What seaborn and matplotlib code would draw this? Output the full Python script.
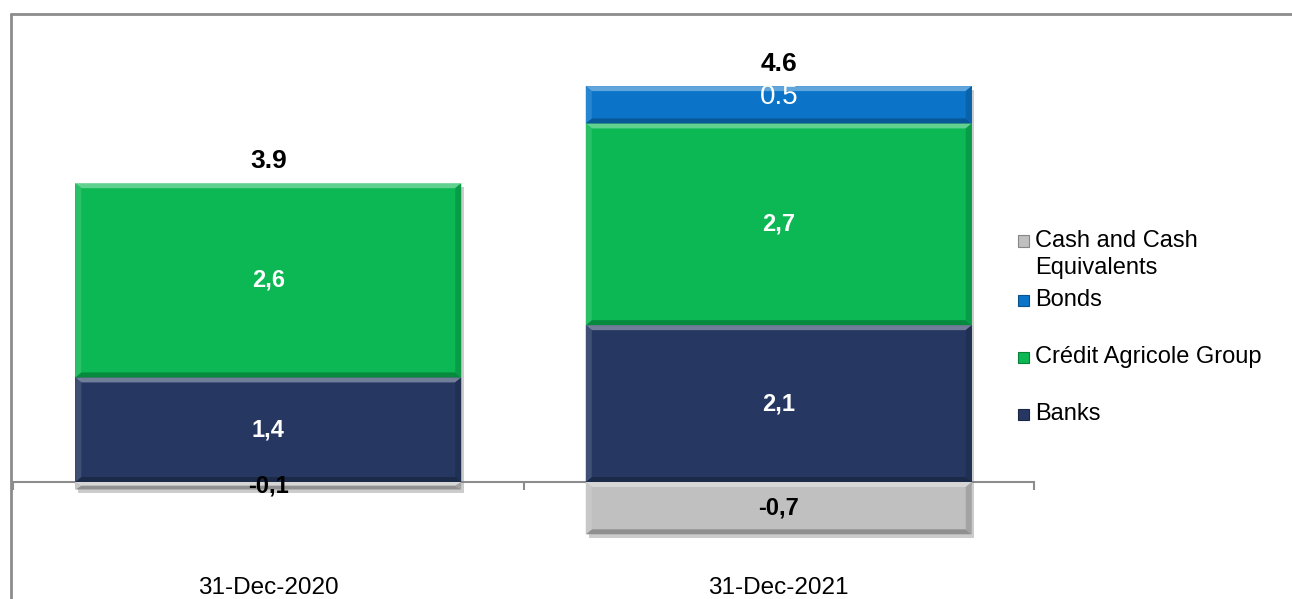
import matplotlib
matplotlib.use("Agg")
import matplotlib.pyplot as plt
import matplotlib.patheffects as pe
from matplotlib.patches import Polygon, Rectangle
from matplotlib.lines import Line2D
from matplotlib.colors import to_rgb
import numpy as np
import pandas as pd
import seaborn as sns

# data (EUR bn)
categories = ["31-Dec-2020", "31-Dec-2021"]
banks = [1.4, 2.1]
credit_agricole = [2.6, 2.7]
bonds = [0.0, 0.5]
cash = [-0.1, -0.7]
totals = [3.9, 4.6]

series_names = ["Banks", "Crédit Agricole Group", "Bonds", "Cash and Cash\nEquivalents"]
series_colors = {"Banks": "#263862",
                 "Crédit Agricole Group": "#0BB853",
                 "Bonds": "#0B74C8",
                 "Cash and Cash\nEquivalents": "#C0C0C0"}

sns.set_theme(style="white")
plt.rcParams["font.family"] = ["Liberation Sans", "DejaVu Sans"]
plt.rcParams["text.color"] = "black"

W, H = 1292, 599
fig = plt.figure(figsize=(W / 100, H / 100), dpi=100)
ax = fig.add_axes([13 / W, 0, 1021 / W, 1])
zero_px = 482          # pixel row of the zero line, from top
px_per_unit = 74.7
ax.set_ylim(-(H - zero_px) / px_per_unit, zero_px / px_per_unit)


def lighten(c, f):
    r = np.array(to_rgb(c))
    return tuple(r + (1 - r) * f)


def darken(c, f):
    return tuple(np.array(to_rgb(c)) * (1 - f))


def add_bevel(patch, color):
    x0, w = patch.get_x(), patch.get_width()
    y0, h = patch.get_y(), patch.get_height()
    if abs(h) < 1e-9:
        return
    yb, yt = min(y0, y0 + h), max(y0, y0 + h)
    xl, xr = x0, x0 + w
    dx = 6 / (ax.bbox.width / 2.0)
    dy = min(5 / px_per_unit, (yt - yb) / 2)
    pieces = [
        ([(xl, yt), (xr, yt), (xr - dx, yt - dy), (xl + dx, yt - dy)], lighten(color, 0.35)),
        ([(xl, yb), (xr, yb), (xr - dx, yb + dy), (xl + dx, yb + dy)], darken(color, 0.25)),
        ([(xl, yb), (xl, yt), (xl + dx, yt - dy), (xl + dx, yb + dy)], lighten(color, 0.12)),
        ([(xr, yb), (xr, yt), (xr - dx, yt - dy), (xr - dx, yb + dy)], darken(color, 0.15)),
    ]
    for pts, c in pieces:
        ax.add_patch(Polygon(pts, closed=True, facecolor=c, edgecolor="none", zorder=patch.get_zorder() + 0.1))


df = pd.DataFrame({"date": categories * 4,
                   "series": np.repeat(series_names, 2),
                   "value": banks + credit_agricole + bonds + cash})
bottoms = {"Banks": [0, 0],
           "Crédit Agricole Group": banks,
           "Bonds": [b + c for b, c in zip(banks, credit_agricole)],
           "Cash and Cash\nEquivalents": [0, 0]}

shadow = [pe.SimplePatchShadow(offset=(2, -2.5), shadow_rgbFace="#808080", alpha=0.4), pe.Normal()]
for name in series_names:
    sub = df[df["series"] == name]
    n_before = len(ax.patches)
    sns.barplot(data=sub, x="date", y="value", order=categories, color=series_colors[name],
                saturation=1, width=0.756, errorbar=None, bottom=bottoms[name], ax=ax, zorder=2)
    for p in ax.patches[n_before:]:
        if abs(p.get_height()) > 1e-9:
            p.set_path_effects(shadow)
            p.set_edgecolor("none")
            add_bevel(p, series_colors[name])

# segment labels
for i in range(2):
    ax.text(i, banks[i] / 2, f"{banks[i]:.1f}".replace(".", ","), ha="center", va="center",
            color="white", fontsize=17, fontweight="bold", zorder=5)
    ax.text(i, banks[i] + credit_agricole[i] / 2, f"{credit_agricole[i]:.1f}".replace(".", ","),
            ha="center", va="center", color="white", fontsize=17, fontweight="bold", zorder=5)
    if bonds[i] > 0:
        ax.text(i, banks[i] + credit_agricole[i] + bonds[i] / 2 + 0.1, f"{bonds[i]:.1f}",
                ha="center", va="center", color="white", fontsize=20, zorder=5)
    ax.text(i, cash[i] / 2, f"{cash[i]:.1f}".replace(".", ","), ha="center", va="center",
            color="black", fontsize=17, fontweight="bold", zorder=5)
    top = banks[i] + credit_agricole[i] + bonds[i]
    ax.annotate(f"{totals[i]:.1f}", (i, top), xytext=(0, 16), textcoords="offset points",
                ha="center", va="center", fontsize=19, fontweight="bold", color="black", zorder=5)

# axis styling: zero line with ticks at category boundaries, labels at the bottom
ax.set_xlim(-0.5, 1.5)
for s in ["top", "right", "left"]:
    ax.spines[s].set_visible(False)
ax.spines["bottom"].set_position(("data", 0))
ax.spines["bottom"].set_color("#8C8C8C")
ax.spines["bottom"].set_linewidth(1.5)
ax.spines["bottom"].set_zorder(1)
ax.set_xticks([-0.5, 0.5, 1.5])
ax.set_xticklabels([])
ax.tick_params(axis="x", direction="out", length=6, width=1.5, color="#8C8C8C", bottom=True)
ax.set_yticks([])
ax.set_xlabel("")
ax.set_ylabel("")
ax.patch.set_alpha(0)
for i, c in enumerate(categories):
    ax.text(i, 11 / H, c, transform=ax.get_xaxis_transform(), ha="center", va="center", fontsize=17.5)

# legend drawn by hand to copy the uneven spacing
legend_rows = [("Cash and Cash\nEquivalents", 241), ("Bonds", 300), ("Crédit Agricole Group", 357), ("Banks", 414)]
sq = 11
for name, ypx in legend_rows:
    col = series_colors[name]
    fig.add_artist(Rectangle((1018 / W, (H - ypx - sq / 2) / H), sq / W, sq / H, transform=fig.transFigure,
                             facecolor=col, edgecolor=darken(col, 0.3), linewidth=0.8))
    first = name.split("\n")[0]
    fig.text(1035 / W, (H - ypx) / H, first, ha="left", va="center", fontsize=17)
    if "\n" in name:
        fig.text(1035 / W, (H - ypx - 27) / H, name.split("\n")[1], ha="left", va="center", fontsize=17)

# outer chart frame (top and left edges visible)
fig.add_artist(Line2D([10.5 / W, 1], [1 - 14 / H, 1 - 14 / H], transform=fig.transFigure, color="#8C8C8C", lw=2))
fig.add_artist(Line2D([10.5 / W, 10.5 / W], [0, 1 - 14 / H], transform=fig.transFigure, color="#8C8C8C", lw=2))

fig.savefig("out.png", dpi=100, facecolor="white")
